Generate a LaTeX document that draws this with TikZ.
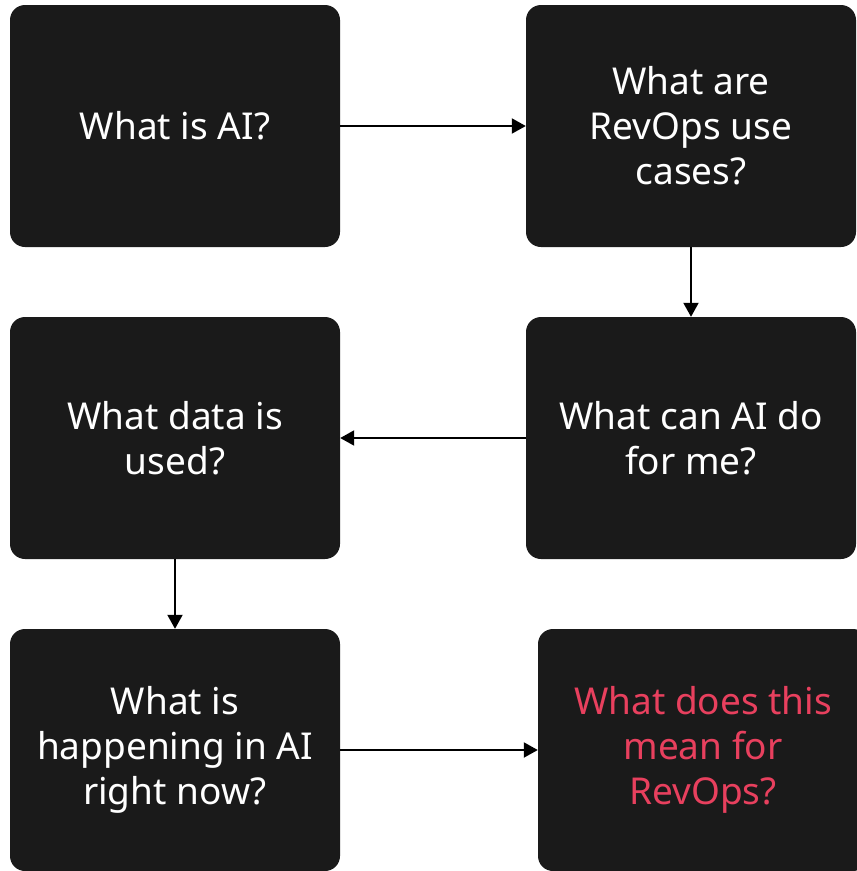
\documentclass[tikz,border=0pt]{standalone}
\usepackage{fontspec}
\setmainfont{Noto Sans}
\usetikzlibrary{arrows.meta}
\definecolor{boxfill}{HTML}{1A1A1A}
\definecolor{accent}{HTML}{E8405E}
\tikzset{
  qbox/.style={fill=boxfill, rounded corners=15pt, minimum width=330pt, minimum height=242pt,
    text=white, align=center, font=\fontsize{37}{45}\selectfont, inner sep=0pt},
  flow/.style={-{Triangle[length=14pt,width=15pt]}, line width=2pt, black}
}
\begin{document}
\begin{tikzpicture}[x=1pt,y=-1pt]
  \useasboundingbox (0,0) rectangle (857,871);
  \clip (0,0) rectangle (857,871);
  \node[qbox] (ai)   at (175,126) {What is AI?};
  \node[qbox] (uses) at (691,126) {What are\\RevOps use\\cases?};
  \node[qbox] (can)  at (691,438) {What can AI do\\for me?};
  \node[qbox] (data) at (175,438) {What data is\\used?};
  \node[qbox] (now)  at (175,750) {What is\\happening in AI\\right now?};
  \node[qbox, text=accent] (mean) at (703,750) {What does this\\mean for\\RevOps?};
  \draw[flow] (ai) -- (uses);
  \draw[flow] (uses) -- (can);
  \draw[flow] (can) -- (data);
  \draw[flow] (data) -- (now);
  \draw[flow] (now) -- (mean);
\end{tikzpicture}
\end{document}
